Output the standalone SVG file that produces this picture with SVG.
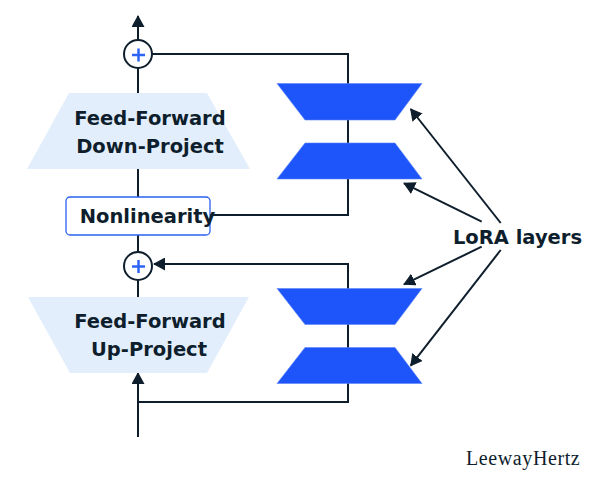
<svg xmlns="http://www.w3.org/2000/svg" width="609" height="486" viewBox="0 0 609 486">
<defs>
<marker id="ah" markerUnits="userSpaceOnUse" markerWidth="12" markerHeight="13" refX="11" refY="6.5" orient="auto">
<path d="M0,0 L12,6.5 L0,13 z" fill="#0E1E2C"/>
</marker>
<style>
.ln{fill:none;stroke:#0E1E2C;stroke-width:2}
.lbl{font-family:"DejaVu Sans",Verdana,sans-serif;font-weight:bold;font-size:19.5px;fill:#0E1E2C;text-anchor:middle}
.ff{fill:#E3EEFC}
.lora{fill:#1E55FA;stroke:#5A85FA;stroke-width:0.6}
.sum{fill:#fff;stroke:#0E1E2C;stroke-width:2}
.plus{stroke:#2D64F5;stroke-width:2.5;fill:none}
</style>
</defs>
<rect width="609" height="486" fill="#fff"/>
<g id="connectors">
<line class="ln" x1="138" y1="40" x2="138" y2="16" marker-end="url(#ah)"/>
<line class="ln" x1="138" y1="68" x2="138" y2="94"/>
<line class="ln" x1="138" y1="168" x2="138" y2="197"/>
<line class="ln" x1="138" y1="235" x2="138" y2="252"/>
<line class="ln" x1="138" y1="280" x2="138" y2="298"/>
<line class="ln" x1="138" y1="437" x2="138" y2="373" marker-end="url(#ah)"/>
<polyline class="ln" points="152,54 348,54 348,215 210,215"/>
<polyline class="ln" points="138,402 348,402 348,264 154,264" marker-end="url(#ah)"/>
<line class="ln" x1="500.7" y1="223" x2="410.7" y2="109" marker-end="url(#ah)"/>
<line class="ln" x1="481.7" y1="221.7" x2="404" y2="183.3" marker-end="url(#ah)"/>
<line class="ln" x1="481.7" y1="246.7" x2="404" y2="284.3" marker-end="url(#ah)"/>
<line class="ln" x1="500.7" y1="250" x2="410.7" y2="365.7" marker-end="url(#ah)"/>
</g>
<g id="sum-top">
<circle class="sum" cx="138" cy="54" r="14"/>
<path class="plus" d="M132,55 H145 M138.5,48.5 V61.5"/>
</g>
<g id="ff-down">
<polygon class="ff" points="69,93 207,93 250,169 27,169"/>
<text class="lbl" x="150" y="125">Feed-Forward</text>
<text class="lbl" x="150" y="153">Down-Project</text>
</g>
<g id="nonlinearity">
<rect x="66" y="197" width="144" height="38" rx="4" fill="#fff" stroke="#2A62F0" stroke-width="1.3"/>
<text class="lbl" x="147.5" y="223">Nonlinearity</text>
</g>
<g id="sum-bottom">
<circle class="sum" cx="138" cy="266" r="14"/>
<path class="plus" d="M132,266.5 H145 M138.5,260 V273"/>
</g>
<g id="ff-up">
<polygon class="ff" points="28,297 249,297 207,373 70,373"/>
<text class="lbl" x="150" y="328">Feed-Forward</text>
<text class="lbl" x="149" y="356">Up-Project</text>
</g>
<g id="lora-down-a">
<polygon class="lora" points="277,83.5 422,83.5 395,120 305,120"/>
</g>
<g id="lora-down-b">
<polygon class="lora" points="305,143 395,143 422,179 277,179"/>
</g>
<g id="lora-up-a">
<polygon class="lora" points="277,288.5 422,288.5 395,324.5 305,324.5"/>
</g>
<g id="lora-up-b">
<polygon class="lora" points="305,347.5 395,347.5 422,383.5 277,383.5"/>
</g>
<g id="lora-label">
<text class="lbl" x="517.5" y="244">LoRA layers</text>
</g>
<text x="466" y="465" font-family="'Liberation Serif','Times New Roman',serif" font-size="20" letter-spacing="0.6" fill="#0E1E2C">LeewayHertz</text>
</svg>
